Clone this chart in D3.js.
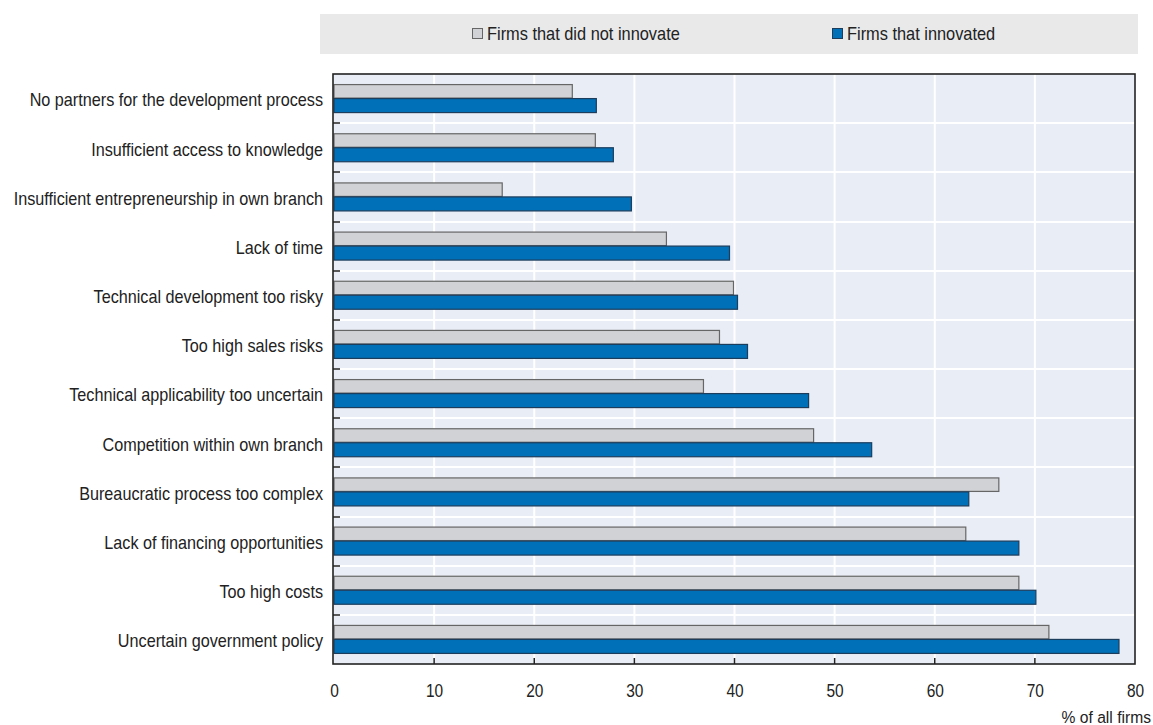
<!DOCTYPE html>
<html><head><meta charset="utf-8">
<script src="https://d3js.org/d3.v7.min.js"></script>
<style>
body{margin:0;background:#fff;}
svg text{font-family:"Liberation Sans",Arial,sans-serif;fill:#222;}
</style></head><body>
<svg id="chart" width="1153" height="725"></svg>
<script>
const categories = [
  "No partners for the development process",
  "Insufficient access to knowledge",
  "Insufficient entrepreneurship in own branch",
  "Lack of time",
  "Technical development too risky",
  "Too high sales risks",
  "Technical applicability too uncertain",
  "Competition within own branch",
  "Bureaucratic process too complex",
  "Lack of financing opportunities",
  "Too high costs",
  "Uncertain government policy"
];
const notInnovated = [23.8, 26.1, 16.8, 33.2, 39.9, 38.5, 36.9, 47.9, 66.4, 63.1, 68.4, 71.4];
const innovated    = [26.2, 27.9, 29.7, 39.5, 40.3, 41.3, 47.4, 53.7, 63.4, 68.4, 70.1, 78.4];
const seriesNames = ["Firms that did not innovate", "Firms that innovated"];
const xTicks = [0,10,20,30,40,50,60,70,80];
const axisTitle = "% of all firms";

const svg = d3.select("#chart");
const L = 334, R = 1135, T = 74, B = 664;
const SX = 0.9;
const x = d3.scaleLinear().domain([0,80]).range([L,R]);
const y = d3.scaleBand().domain(categories).range([T,B]);
const inner = d3.scaleBand().domain(seriesNames).range([0, 28]);

// legend
svg.append("rect").attr("x",320).attr("y",14).attr("width",818).attr("height",40).attr("fill","#e9e9ea");
const legX = [472, 832];
const legFill = ["#d0d2d5","#0070b8"], legStroke = ["#666","#1d3d5c"];
seriesNames.forEach((n,i)=>{
  svg.append("rect").attr("x",legX[i]+0.5).attr("y",28.5).attr("width",10).attr("height",10)
    .attr("fill",legFill[i]).attr("stroke",legStroke[i]).attr("stroke-width",1);
  svg.append("text").attr("transform",`translate(${legX[i]+15},40) scale(${0.91},1)`)
    .attr("font-size",18).text(n);
});

// plot bg
svg.append("rect").attr("x",L-1).attr("y",T).attr("width",R-L+1).attr("height",B-T).attr("fill","#e9edf6");

// vertical gridlines
svg.append("g").selectAll("line").data(xTicks.slice(1,-1)).join("line")
  .attr("x1",d=>x(d)).attr("x2",d=>x(d)).attr("y1",T).attr("y2",B)
  .attr("stroke","#fff").attr("stroke-width",2);
// horizontal gridlines at band boundaries
svg.append("g").selectAll("line").data(categories.slice(1)).join("line")
  .attr("x1",L).attr("x2",R).attr("y1",d=>Math.round(y(d))).attr("y2",d=>Math.round(y(d)))
  .attr("stroke","#fff").attr("stroke-width",2);

// bars
const off = (y.bandwidth()-28)/2;
const g = svg.append("g");
g.selectAll(".b0").data(categories).join("rect")
  .attr("x",x(0)).attr("y",(d)=>y(d)+off+inner(seriesNames[0]))
  .attr("width",(d,i)=>x(notInnovated[i])-x(0)).attr("height",inner.bandwidth()-0.5)
  .attr("fill",legFill[0]).attr("stroke",legStroke[0]).attr("stroke-width",1.2);
g.selectAll(".b1").data(categories).join("rect")
  .attr("x",x(0)).attr("y",(d)=>y(d)+off+inner(seriesNames[1]))
  .attr("width",(d,i)=>x(innovated[i])-x(0)).attr("height",inner.bandwidth())
  .attr("fill",legFill[1]).attr("stroke",legStroke[1]).attr("stroke-width",1.2);

// frame
svg.append("rect").attr("x",L-1).attr("y",T).attr("width",R-L+1).attr("height",B-T)
  .attr("fill","none").attr("stroke","#222").attr("stroke-width",1.6);

// y ticks (inside) at band boundaries
svg.append("g").selectAll("line").data(categories.slice(1)).join("line")
  .attr("x1",L-1).attr("x2",L+6).attr("y1",d=>Math.round(y(d))).attr("y2",d=>Math.round(y(d)))
  .attr("stroke","#222").attr("stroke-width",1.5);

// x axis
const xAxis = d3.axisBottom(x).tickValues(xTicks).tickSize(0).tickPadding(0).tickFormat(d3.format("d"));
const xa = svg.append("g").attr("transform",`translate(0,${B})`).call(xAxis);
xa.select(".domain").remove();
xa.selectAll("text").attr("font-size",18).attr("font-family",null).attr("fill","#222")
  .attr("y",null).attr("dy",null).attr("transform",`translate(0,33) scale(0.86,1)`);
svg.append("g").selectAll("line").data(xTicks.slice(1,-1)).join("line")
  .attr("x1",d=>x(d)).attr("x2",d=>x(d)).attr("y1",B).attr("y2",B-6)
  .attr("stroke","#222").attr("stroke-width",1.5);

// y labels
const yAxis = d3.axisLeft(y).tickSize(0).tickPadding(0);
const ya = svg.append("g").attr("transform",`translate(${L},0)`).call(yAxis);
ya.select(".domain").remove();
ya.selectAll("text").attr("font-size",18).attr("font-family",null).attr("fill","#222")
  .attr("x",null).attr("dy",null).attr("transform",`translate(-11,7.8) scale(${SX},1)`);

svg.append("text").attr("transform","translate(1151,722.5) scale(0.92,1)").attr("text-anchor","end")
  .attr("font-size",17).text(axisTitle);
</script></body></html>
